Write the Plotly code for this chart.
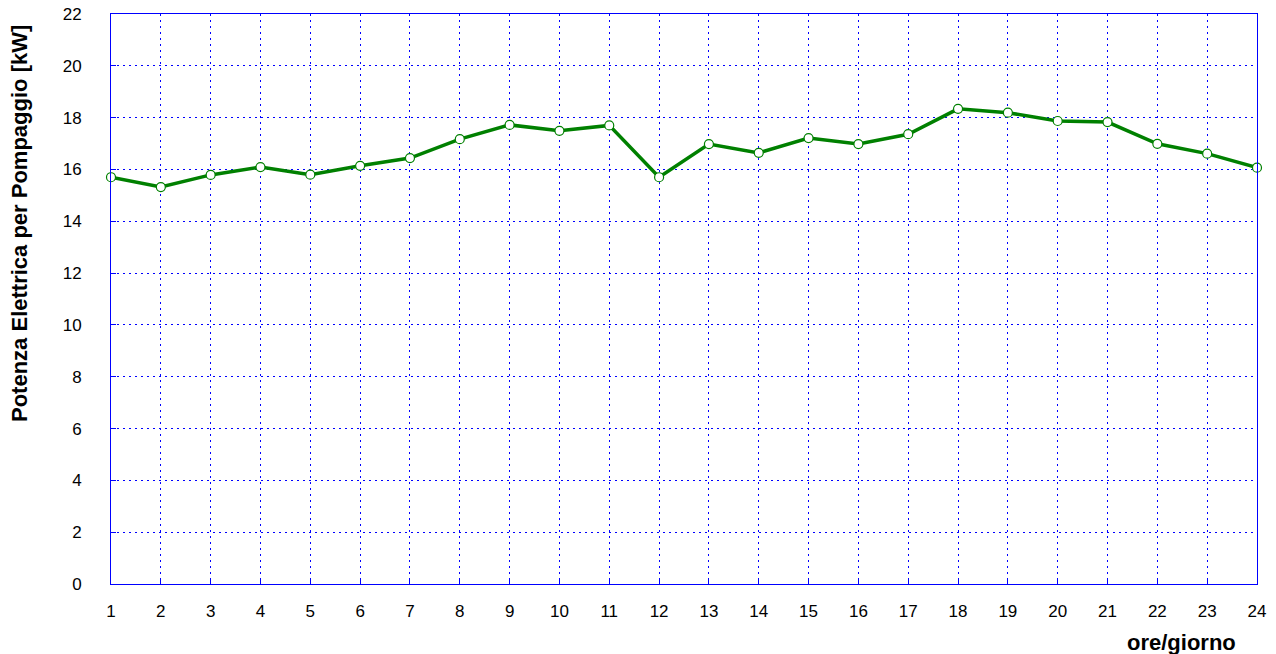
import plotly.graph_objects as go

hours = list(range(1, 25))
power_kw = [15.70, 15.32, 15.79, 16.09, 15.80, 16.14, 16.44, 17.17, 17.72, 17.49,
            17.70, 15.70, 16.98, 16.64, 17.21, 16.98, 17.36, 18.34, 18.19, 17.87,
            17.83, 16.99, 16.61, 16.07]
y_ticks = list(range(0, 23, 2))

fig = go.Figure()
fig.add_trace(go.Scatter(
    x=hours, y=power_kw, mode="lines+markers",
    line=dict(color="#008000", width=3.5),
    marker=dict(symbol="circle", size=9, color="white",
                line=dict(color="#008000", width=1.2)),
    cliponaxis=False, showlegend=False,
))

axis_common = dict(
    showline=True, mirror=True, linecolor="#0000ff", linewidth=1,
    showgrid=True, gridcolor="#0000ff", griddash="2px,4px", gridwidth=1,
    ticks="inside", ticklen=5, tickcolor="#0000ff",
    zeroline=False, automargin=False,
    tickfont=dict(family="Liberation Sans, Arial", size=17, color="black"),
)

fig.update_layout(
    width=1276, height=654,
    margin=dict(l=111, r=19, t=14, b=70),
    plot_bgcolor="white", paper_bgcolor="white",
    font=dict(family="Liberation Sans, Arial", color="black"),
    xaxis=dict(range=[1, 24], tickvals=hours, ticklabelstandoff=12, **axis_common),
    yaxis=dict(range=[0, 22], tickvals=y_ticks, ticklabelstandoff=25, **axis_common),
)
fig.add_annotation(text="<b>Potenza Elettrica per Pompaggio [kW]</b>",
                   xref="paper", yref="paper", x=0, y=0.6316, xshift=-91,
                   xanchor="center", yanchor="middle", textangle=-90,
                   showarrow=False, font=dict(size=22))
fig.add_annotation(text="<b>ore/giorno</b>", xref="paper", yref="paper",
                   x=1.0, y=0, yshift=-58, xanchor="right", yanchor="middle",
                   xshift=-19, showarrow=False, font=dict(size=22))

fig.write_html("out.html", config={"displayModeBar": False},
               post_script="document.body.style.margin='0';document.body.style.overflow='hidden';")
